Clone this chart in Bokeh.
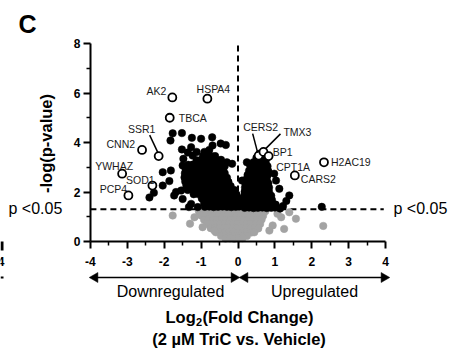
from math import pi
from bokeh.plotting import figure
from bokeh.models import Range1d, FixedTicker, Label
from bokeh.embed import file_html
from bokeh.resources import INLINE

# ---------------- data (log2 fold change, -log10 p) ----------------
x_ticks = [-4, -3, -2, -1, 0, 1, 2, 3, 4]
x_minor = [-3.5, -2.5, -1.5, -0.5, 0.5, 1.5, 2.5, 3.5]
y_ticks = [0, 2, 4, 6, 8]
y_minor = [1, 3, 5, 7]
p_threshold = 1.3

down_scatter = [(-1.77, 4.37), (-1.52, 4.38), (-1.83, 4.08), (-1.25, 4.19), (-1.0, 4.15),
                (-0.70, 4.21), (-0.47, 3.96), (-0.33, 3.9), (-0.69, 3.88), (-1.27, 3.81),
                (-1.52, 3.72), (-1.36, 3.6), (-1.12, 3.62), (-0.91, 3.62), (-0.78, 3.7),
                (-1.23, 3.47), (-1.48, 3.34), (-1.5, 3.07), (-1.82, 2.87), (-2.04, 2.8),
                (-1.86, 2.44), (-2.04, 2.26), (-2.28, 1.97), (-2.40, 1.78), (-1.73, 1.86),
                (-1.54, 2.06), (-1.5, 1.72), (-1.27, 1.52), (-1.09, 1.39), (-1.33, 1.39),
                (-0.46, 3.3), (-0.3, 3.2), (-0.16, 3.14), (-0.36, 3.05), (-1.68, 2.0)]

down_cluster = [(-0.95, 3.45), (-0.83, 3.46), (-0.71, 3.44), (-0.62, 3.45),
                (-1.12, 3.28), (-1.0, 3.29), (-0.88, 3.27), (-0.76, 3.28), (-0.64, 3.29), (-0.55, 3.27),
                (-1.35, 3.1), (-1.22, 3.11), (-1.1, 3.09), (-0.98, 3.1), (-0.86, 3.11), (-0.74, 3.1),
                (-0.62, 3.09), (-0.5, 3.1),
                (-1.42, 2.93), (-1.3, 2.94), (-1.18, 2.92), (-1.06, 2.93), (-0.94, 2.94), (-0.82, 2.93),
                (-0.7, 2.92), (-0.58, 2.93), (-0.46, 2.94), (-0.4, 2.92),
                (-1.44, 2.76), (-1.32, 2.77), (-1.2, 2.75), (-1.08, 2.76), (-0.96, 2.77), (-0.84, 2.76),
                (-0.72, 2.75), (-0.6, 2.76), (-0.48, 2.77), (-0.36, 2.76),
                (-1.45, 2.59), (-1.33, 2.6), (-1.21, 2.58), (-1.09, 2.59), (-0.97, 2.6), (-0.85, 2.59),
                (-0.73, 2.58), (-0.61, 2.59), (-0.49, 2.6), (-0.37, 2.59), (-0.3, 2.58),
                (-1.43, 2.42), (-1.31, 2.43), (-1.19, 2.41), (-1.07, 2.42), (-0.95, 2.43), (-0.83, 2.42),
                (-0.71, 2.41), (-0.59, 2.42), (-0.47, 2.43), (-0.35, 2.42), (-0.26, 2.41),
                (-1.4, 2.25), (-1.28, 2.26), (-1.16, 2.24), (-1.04, 2.25), (-0.92, 2.26), (-0.8, 2.25),
                (-0.68, 2.24), (-0.56, 2.25), (-0.44, 2.26), (-0.32, 2.25), (-0.2, 2.24),
                (-1.36, 2.08), (-1.24, 2.09), (-1.12, 2.07), (-1.0, 2.08), (-0.88, 2.09), (-0.76, 2.08),
                (-0.64, 2.07), (-0.52, 2.08), (-0.4, 2.09), (-0.28, 2.08), (-0.16, 2.07), (-0.1, 2.08),
                (-1.2, 1.91), (-1.08, 1.92), (-0.96, 1.9), (-0.84, 1.91), (-0.72, 1.92), (-0.6, 1.91),
                (-0.48, 1.9), (-0.36, 1.91), (-0.24, 1.92), (-0.12, 1.91), (-0.04, 1.9),
                (-0.98, 1.74), (-0.86, 1.75), (-0.74, 1.73), (-0.62, 1.74), (-0.5, 1.75), (-0.38, 1.74),
                (-0.26, 1.73), (-0.14, 1.74), (-0.03, 1.75), (0.02, 1.74),
                (-0.92, 1.57), (-0.8, 1.58), (-0.68, 1.56), (-0.56, 1.57), (-0.44, 1.58), (-0.32, 1.57),
                (-0.2, 1.56), (-0.08, 1.57), (0.02, 1.58),
                (-0.9, 1.4), (-0.78, 1.41), (-0.66, 1.39), (-0.54, 1.4), (-0.42, 1.41), (-0.3, 1.4),
                (-0.18, 1.39), (-0.06, 1.4), (0.03, 1.41)]

up_scatter = [(1.39, 1.86), (1.31, 1.64), (1.22, 1.43), (1.14, 1.33), (1.12, 2.13),
              (1.03, 2.46), (0.98, 2.74), (0.94, 1.52), (2.27, 1.4), (0.24, 3.2),
              (0.33, 3.07), (0.11, 2.46)]

up_cluster = [(0.58, 3.55), (0.68, 3.54),
              (0.5, 3.38), (0.6, 3.39), (0.7, 3.37), (0.78, 3.38),
              (0.42, 3.2), (0.53, 3.21), (0.64, 3.19), (0.75, 3.2),
              (0.36, 3.03), (0.47, 3.04), (0.58, 3.02), (0.69, 3.03), (0.8, 3.04),
              (0.3, 2.86), (0.41, 2.87), (0.52, 2.85), (0.63, 2.86), (0.74, 2.87), (0.82, 2.85),
              (0.26, 2.69), (0.37, 2.7), (0.48, 2.68), (0.59, 2.69), (0.7, 2.7), (0.8, 2.68),
              (0.23, 2.52), (0.34, 2.53), (0.45, 2.51), (0.56, 2.52), (0.67, 2.53), (0.78, 2.51),
              (0.2, 2.35), (0.31, 2.36), (0.42, 2.34), (0.53, 2.35), (0.64, 2.36), (0.75, 2.34), (0.82, 2.35),
              (0.19, 2.18), (0.3, 2.19), (0.41, 2.17), (0.52, 2.18), (0.63, 2.19), (0.74, 2.17), (0.84, 2.18),
              (0.18, 2.01), (0.29, 2.02), (0.4, 2.0), (0.51, 2.01), (0.62, 2.02), (0.73, 2.0), (0.84, 2.01),
              (0.17, 1.84), (0.28, 1.85), (0.39, 1.83), (0.5, 1.84), (0.61, 1.85), (0.72, 1.83),
              (0.83, 1.84), (0.9, 1.85),
              (0.17, 1.67), (0.28, 1.68), (0.39, 1.66), (0.5, 1.67), (0.61, 1.68), (0.72, 1.66),
              (0.83, 1.67), (0.92, 1.68),
              (0.16, 1.5), (0.27, 1.51), (0.38, 1.49), (0.49, 1.5), (0.6, 1.51), (0.71, 1.49),
              (0.82, 1.5), (0.93, 1.51), (1.02, 1.49),
              (0.18, 1.36), (0.3, 1.37), (0.42, 1.35), (0.54, 1.36), (0.66, 1.37), (0.78, 1.35),
              (0.9, 1.36), (1.0, 1.37)]

ns_cluster = [(-1.06, 1.22), (-0.94, 1.23), (-0.82, 1.21), (-0.7, 1.22), (-0.58, 1.23), (-0.46, 1.21),
              (-0.34, 1.22), (-0.22, 1.23), (-0.1, 1.21), (0.02, 1.22), (0.14, 1.23), (0.26, 1.21),
              (0.38, 1.22), (0.5, 1.23), (0.62, 1.21), (0.74, 1.22),
              (-1.0, 1.05), (-0.88, 1.06), (-0.76, 1.04), (-0.64, 1.05), (-0.52, 1.06), (-0.4, 1.04),
              (-0.28, 1.05), (-0.16, 1.06), (-0.04, 1.04), (0.08, 1.05), (0.2, 1.06), (0.32, 1.04),
              (0.44, 1.05), (0.56, 1.06), (0.68, 1.04),
              (-0.92, 0.88), (-0.8, 0.89), (-0.68, 0.87), (-0.56, 0.88), (-0.44, 0.89), (-0.32, 0.87),
              (-0.2, 0.88), (-0.08, 0.89), (0.04, 0.87), (0.16, 0.88), (0.28, 0.89), (0.4, 0.87),
              (0.52, 0.88), (0.64, 0.89),
              (-0.84, 0.71), (-0.72, 0.72), (-0.6, 0.7), (-0.48, 0.71), (-0.36, 0.72), (-0.24, 0.7),
              (-0.12, 0.71), (0.0, 0.72), (0.12, 0.7), (0.24, 0.71), (0.36, 0.72), (0.48, 0.7), (0.6, 0.71),
              (-0.74, 0.54), (-0.62, 0.55), (-0.5, 0.53), (-0.38, 0.54), (-0.26, 0.55), (-0.14, 0.53),
              (-0.02, 0.54), (0.1, 0.55), (0.22, 0.53), (0.34, 0.54), (0.46, 0.55), (0.55, 0.53),
              (-0.6, 0.37), (-0.48, 0.38), (-0.36, 0.36), (-0.24, 0.37), (-0.12, 0.38), (0.0, 0.36),
              (0.12, 0.37), (0.24, 0.38), (0.36, 0.36), (0.44, 0.37),
              (-0.46, 0.22), (-0.34, 0.23), (-0.22, 0.21), (-0.1, 0.22), (0.02, 0.23), (0.14, 0.21), (0.24, 0.22),
              (-0.34, 0.12), (-0.22, 0.13), (-0.1, 0.11), (0.02, 0.12), (0.12, 0.13)]

ns_scatter = [(-1.77, 1.05), (-1.3, 0.72), (-1.18, 0.98), (-0.96, 0.58), (-0.64, 0.44),
              (1.07, 1.12), (1.39, 1.18), (1.57, 0.92), (1.25, 0.51), (0.94, 0.65),
              (0.85, 0.44), (2.31, 0.63), (1.17, 0.98)]

genes = ["AK2", "HSPA4", "TBCA", "SSR1", "CNN2", "YWHAZ", "SOD1", "PCP4",
         "CERS2", "TMX3", "BP1", "CPT1A", "H2AC19", "CARS2"]
gene_x = [-1.78, -0.83, -1.85, -2.15, -2.6, -3.14, -2.32, -2.97,
          0.56, 0.69, 0.83, 0.98, 2.33, 1.54]
gene_y = [5.82, 5.77, 5.0, 3.45, 3.7, 2.74, 2.26, 1.86,
          3.47, 3.62, 3.45, 2.74, 3.2, 2.67]
gene_open = [True, True, True, True, True, True, True, True,
             True, True, True, False, True, True]

# ---------------- layout / styling ----------------
# label offsets in screen px: (dx, dy, align)
label_style = {
    "AK2": (-6, 6.5, "right"), "HSPA4": (6, 10, "center"), "TBCA": (9, 0, "left"),
    "SSR1": (-17, 27, "center"), "CNN2": (-7, 6, "right"), "YWHAZ": (-8, 8, "center"),
    "SOD1": (-12, 6, "center"), "PCP4": (-15, 6, "center"), "CERS2": (2, 29, "center"),
    "TMX3": (20, 19.5, "left"), "BP1": (4, 4.5, "left"), "CPT1A": (2, 7, "left"),
    "H2AC19": (7, 0, "left"), "CARS2": (6, -3.5, "left"),
}
leaders = {"SSR1": ((-9, 21), (-1, 4)), "CERS2": ((-6, 22), (-1, 3)), "TMX3": ((17, 18), (2, 3))}

FONT = "Liberation Sans"
BLACK = "#000000"
GRAY = "#a3a3a3"
SX = 36.9   # px per x unit
SY = 24.75  # px per y unit
W, H = 459, 354
X0_PX, Y0_PX = 237.5, 241.0   # pixel position of data origin

p = figure(width=W, height=H,
           x_range=Range1d(-X0_PX / SX, (W - X0_PX) / SX),
           y_range=Range1d(-(H - Y0_PX) / SY, Y0_PX / SY),
           output_backend="svg", toolbar_location=None,
           min_border=0, min_border_left=0, min_border_right=0,
           min_border_top=0, min_border_bottom=0)
p.outline_line_color = None
p.grid.visible = False
p.background_fill_color = "white"
p.border_fill_color = "white"

for ax, tk, mn, loc, bnd in ((p.xaxis[0], x_ticks, x_minor, 0, (-4, 4)),
                             (p.yaxis[0], y_ticks, y_minor, -4, (0, 8))):
    ax.fixed_location = loc
    ax.bounds = bnd
    ax.ticker = FixedTicker(ticks=tk, minor_ticks=mn)
    ax.axis_line_width = 2
    ax.axis_line_color = BLACK
    ax.major_tick_line_width = 2
    ax.major_tick_line_color = BLACK
    ax.minor_tick_line_width = 1.5
    ax.minor_tick_line_color = BLACK
    ax.major_tick_out = 7
    ax.major_tick_in = 0
    ax.minor_tick_out = 4
    ax.minor_tick_in = 0
    ax.major_label_text_font = FONT
    ax.major_label_text_font_style = "bold"
    ax.major_label_text_font_size = "12px"
    ax.major_label_text_color = BLACK
    ax.major_label_overrides = {t: str(t) for t in tk}
p.xaxis.major_label_standoff = 8
p.yaxis.major_label_standoff = 3

# threshold lines
p.line([0, 0], [0, 8], line_color=BLACK, line_width=2, line_dash="6 4")
p.line([-4, 3.95], [p_threshold, p_threshold], line_color=BLACK, line_width=2, line_dash="6 4")

def xs(pts):
    return [a for a, b in pts]

def ys(pts):
    return [b for a, b in pts]

ns = ns_cluster + ns_scatter
sig = down_cluster + down_scatter + up_cluster + up_scatter
p.scatter(xs(ns), ys(ns), size=7.5, fill_color=GRAY, line_color=GRAY, line_width=0.5)
p.scatter(xs(sig), ys(sig), size=7.5, fill_color=BLACK, line_color=BLACK, line_width=0.5)

ox = [x for x, o in zip(gene_x, gene_open) if o]
oy = [y for y, o in zip(gene_y, gene_open) if o]
p.scatter(ox, oy, size=8, fill_color="white", line_color=BLACK, line_width=1.8)

for g, gx, gy in zip(genes, gene_x, gene_y):
    dx, dy, al = label_style[g]
    p.add_layout(Label(x=gx, y=gy, x_offset=dx, y_offset=dy, text=g, text_align=al,
                       text_baseline="middle", text_font=FONT, text_font_size="10.5px",
                       text_color="#1a1a1a"))
    if g in leaders:
        (x0, y0), (x1, y1) = leaders[g]
        p.line([gx + x0 / SX, gx + x1 / SX], [gy + y0 / SY, gy + y1 / SY],
               line_color=BLACK, line_width=1.5)

def px_x(px):
    return (px - X0_PX) / SX

def px_y(py):
    return (Y0_PX - py) / SY

def txt(x, y, t, size, style="normal", align="center", angle=0, baseline="middle"):
    p.add_layout(Label(x=px_x(x), y=px_y(y), text=t, text_align=align, text_baseline=baseline,
                       text_font=FONT, text_font_size=size, text_font_style=style,
                       text_color=BLACK, angle=angle))

# texts around the axes (positions in canvas px)
txt(27, 23.5, "C", "25px", "bold")
txt(45.5, 143, "-log(p-value)", "16.5px", "bold", angle=pi / 2)
txt(8, 207.5, "p <0.05", "16px", align="left")
txt(393, 207.5, "p <0.05", "16px", align="left")
txt(170, 291, "Downregulated", "16px")
txt(314, 291, "Upregulated", "16px")
txt(165, 316, "Log", "16.5px", "bold", align="left")
txt(195.5, 321.5, "2", "11px", "bold", align="left")
txt(202, 316, "(Fold Change)", "16.5px", "bold", align="left")
txt(238.5, 338, "(2 µM TriC vs. Vehicle)", "16.5px", "bold")

# cropped fragments of the neighbouring panel at the left edge
txt(4, 261, "4", "12px", "bold", align="right")
p.line([px_x(1.5), px_x(1.5)], [px_y(241), px_y(250)], line_color=BLACK, line_width=3)
p.line([px_x(0), px_x(3)], [px_y(277), px_y(277)], line_color=BLACK, line_width=2)

# double-headed arrows below the x axis
arrow_y = px_y(277)
for a_px, b_px in ((90, 238), (240, 388)):
    p.line([px_x(a_px + 4), px_x(b_px - 4)], [arrow_y, arrow_y], line_color=BLACK, line_width=1.5)
    p.scatter([px_x(a_px + 4.5)], [arrow_y], marker="triangle", size=10, angle=pi / 2,
              fill_color=BLACK, line_color=BLACK, line_width=0.5)
    p.scatter([px_x(b_px - 4.5)], [arrow_y], marker="triangle", size=10, angle=-pi / 2,
              fill_color=BLACK, line_color=BLACK, line_width=0.5)

open("out.html", "w").write(file_html(p, INLINE))
